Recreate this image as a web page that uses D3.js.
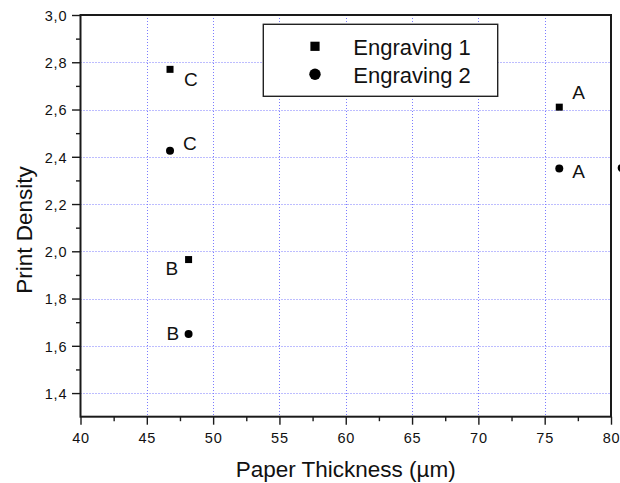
<!DOCTYPE html>
<html>
<head>
<meta charset="utf-8">
<script src="https://cdn.jsdelivr.net/npm/d3@7"></script>
<style>
  html, body { margin: 0; padding: 0; background: #fff; }
  svg { display: block; }
  text { font-family: "Liberation Sans", Arial, Helvetica, sans-serif; fill: #111; }
</style>
</head>
<body>
<svg id="chart" width="620" height="483"></svg>
<script>
// Paper thickness (µm) vs print density for two engravings, samples A/B/C
const seriesNames = ["Engraving 1", "Engraving 2"];
const samples1 = ["C", "A", "B"];
const thickness1 = [46.75, 76.1, 48.15];
const density1 = [2.77, 2.61, 1.965];
const samples2 = ["C", "A", "B", ""];
const thickness2 = [46.75, 76.1, 48.15, 80.8];
const density2 = [2.425, 2.35, 1.65, 2.352];
const xTicks = [40, 45, 50, 55, 60, 65, 70, 75, 80];
const yTicks = [1.4, 1.6, 1.8, 2.0, 2.2, 2.4, 2.6, 2.8, 3.0];

// label placement next to each marker (pixels, baseline), per series
const labelPlace1 = [
  { dx: 14, dy: 16.5, anchor: "start" },
  { dx: 13, dy: -8.5, anchor: "start" },
  { dx: -10.5, dy: 15.5, anchor: "end" }
];
const labelPlace2 = [
  { dx: 13, dy: -1, anchor: "start" },
  { dx: 13, dy: 9.4, anchor: "start" },
  { dx: -9.5, dy: 5.6, anchor: "end" },
  { dx: 13, dy: 9.4, anchor: "start" }
];

const svg = d3.select("#chart");
const plot = { left: 80.5, right: 611, top: 15, bottom: 416.7 };

const x = d3.scaleLinear().domain([40, 80]).range([plot.left, plot.right]);
const y = d3.scaleLinear().domain([1.3, 3.0]).range([plot.bottom, plot.top]);

const xMinor = d3.range(42.5, 80, 5);
const yMinor = d3.range(1.5, 3.0, 0.2).map(v => +v.toFixed(1));
const commaFmt = v => d3.format(".1f")(v).replace(".", ",");

// dotted grid at the inner major ticks
const grid = svg.append("g").attr("stroke", "#5050ff").attr("stroke-width", 1)
  .attr("stroke-dasharray", "1,2").attr("opacity", 0.75);
grid.selectAll("line.v").data(xTicks.filter(v => v > 40 && v < 80)).join("line")
  .attr("x1", d => Math.round(x(d)) + 0.5).attr("x2", d => Math.round(x(d)) + 0.5)
  .attr("y1", plot.top).attr("y2", plot.bottom);
grid.selectAll("line.h").data(yTicks.filter(v => v < 3.0)).join("line")
  .attr("y1", d => Math.round(y(d)) + 0.5).attr("y2", d => Math.round(y(d)) + 0.5)
  .attr("x1", plot.left).attr("x2", plot.right);

// axes: major ticks with labels, minor ticks without
const xAxis = svg.append("g").attr("transform", `translate(0,${plot.bottom})`)
  .call(d3.axisBottom(x).tickValues(xTicks).tickSize(8).tickFormat(d3.format("d")));
const xAxisMinor = svg.append("g").attr("transform", `translate(0,${plot.bottom})`)
  .call(d3.axisBottom(x).tickValues(xMinor).tickSize(4.5).tickFormat(""));
const yAxis = svg.append("g").attr("transform", `translate(${plot.left},0)`)
  .call(d3.axisLeft(y).tickValues(yTicks).tickSize(8.5).tickFormat(commaFmt));
const yAxisMinor = svg.append("g").attr("transform", `translate(${plot.left},0)`)
  .call(d3.axisLeft(y).tickValues(yMinor).tickSize(4.5).tickFormat(""));

[xAxis, xAxisMinor, yAxis, yAxisMinor].forEach(g => {
  g.select(".domain").remove();
  g.selectAll(".tick line").attr("stroke", "#1a1a1a").attr("stroke-width", 1.4);
});
xAxis.selectAll(".tick text")
  .attr("y", 26.5).attr("dy", null)
  .attr("font-size", 14.5).attr("letter-spacing", 0.8).attr("fill", "#111");
yAxis.selectAll(".tick text")
  .attr("x", -13.2).attr("dy", "0.36em")
  .attr("font-size", 14.5).attr("letter-spacing", 0.8).attr("fill", "#111");

// frame around plot
svg.append("rect")
  .attr("x", plot.left).attr("y", plot.top)
  .attr("width", plot.right - plot.left).attr("height", plot.bottom - plot.top)
  .attr("fill", "none").attr("stroke", "#1a1a1a").attr("stroke-width", 2);

// axis titles
svg.append("text")
  .attr("x", (plot.left + plot.right) / 2).attr("y", 477)
  .attr("text-anchor", "middle").attr("font-size", 22.5)
  .text("Paper Thickness (µm)");
svg.append("text")
  .attr("transform", "translate(32,230) rotate(-90)")
  .attr("text-anchor", "middle").attr("font-size", 22.5)
  .text("Print Density");

// data points
const pts1 = thickness1.map((t, i) => ({ t, d: density1[i], s: samples1[i], p: labelPlace1[i] }));
const pts2 = thickness2.map((t, i) => ({ t, d: density2[i], s: samples2[i], p: labelPlace2[i] }));

const sq = 7;
svg.append("g").selectAll("rect").data(pts1).join("rect")
  .attr("x", d => x(d.t) - sq / 2).attr("y", d => y(d.d) - sq / 2)
  .attr("width", sq).attr("height", sq).attr("fill", "#000");
svg.append("g").selectAll("circle").data(pts2).join("circle")
  .attr("cx", d => x(d.t)).attr("cy", d => y(d.d)).attr("r", 4).attr("fill", "#000");

// sample letters beside each point
svg.append("g").selectAll("text").data(pts1.concat(pts2).filter(d => d.s)).join("text")
  .attr("x", d => x(d.t) + d.p.dx).attr("y", d => y(d.d) + d.p.dy)
  .attr("text-anchor", d => d.p.anchor).attr("font-size", 19)
  .text(d => d.s);

// legend
const lg = svg.append("g");
lg.append("rect").attr("x", 263.3).attr("y", 24.3).attr("width", 234.4).attr("height", 72)
  .attr("fill", "#fff").attr("stroke", "#222").attr("stroke-width", 1.4);
lg.append("rect").attr("x", 315 - 4.6).attr("y", 46.3 - 4.6).attr("width", 9.2).attr("height", 9.2)
  .attr("fill", "#000");
lg.append("circle").attr("cx", 315).attr("cy", 74.3).attr("r", 5.7).attr("fill", "#000");
lg.selectAll("text.lbl").data(seriesNames).join("text")
  .attr("x", 353.3).attr("y", (d, i) => 55 + i * 27.7)
  .attr("font-size", 22).text(d => d);
</script>
</body>
</html>
